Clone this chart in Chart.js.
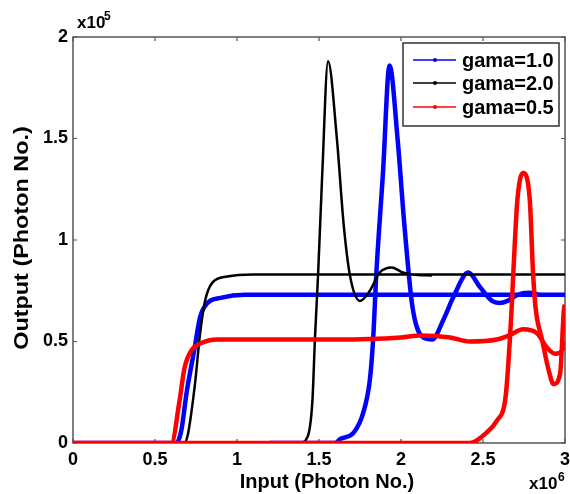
<!DOCTYPE html>
<html>
<head>
<meta charset="utf-8">
<script src="https://cdn.jsdelivr.net/npm/chart.js@4.4.1/dist/chart.umd.min.js"></script>
<style>
html,body{margin:0;padding:0;background:#fff;}
canvas{display:block;}
</style>
</head>
<body>
<canvas id="c" width="570" height="494"></canvas>
<script>
// ---- tick values / labels ----
const xTicks = [0, 0.5, 1, 1.5, 2, 2.5, 3];
const xTickLabels = ['0', '0.5', '1', '1.5', '2', '2.5', '3'];
const yTicks = [0, 0.5, 1, 1.5, 2];
const yTickLabels = ['0', '0.5', '1', '1.5', '2'];
const seriesLabels = ['gama=1.0', 'gama=2.0', 'gama=0.5'];
const xTitle = 'Input (Photon No.)';
const yTitle = 'Output (Photon No.)';

// ---- gama=1.0 (blue) ----
const g10LowX  = [0, 0.63, 0.66, 0.695, 0.74, 0.775, 0.82, 0.90, 1.05, 1.5, 2.0, 2.5, 3.0];
const g10LowY  = [0, 0, 0.06, 0.26, 0.46, 0.62, 0.69, 0.715, 0.73, 0.73, 0.73, 0.73, 0.73];
const g10HighX = [1.2, 1.60, 1.63, 1.71, 1.77, 1.81, 1.83, 1.85, 1.89, 1.93, 1.98, 2.02, 2.07, 2.135, 2.19, 2.26, 2.32, 2.41, 2.48, 2.555, 2.60, 2.65, 2.71, 2.78, 2.85, 3.0];
const g10HighY = [0, 0, 0.02, 0.05, 0.15, 0.31, 0.51, 0.84, 1.33, 1.86, 1.49, 1.08, 0.67, 0.52, 0.51, 0.61, 0.72, 0.84, 0.77, 0.70, 0.69, 0.70, 0.73, 0.74, 0.73, 0.73];

// ---- gama=2.0 (black) ----
const g20LowX  = [0, 0.68, 0.70, 0.72, 0.745, 0.775, 0.805, 0.85, 0.94, 1.1, 2.0, 3.0];
const g20LowY  = [0, 0, 0.04, 0.14, 0.30, 0.54, 0.70, 0.79, 0.82, 0.83, 0.83, 0.83];
const g20HighX = [1.2, 1.38, 1.43, 1.46, 1.475, 1.495, 1.52, 1.555, 1.61, 1.65, 1.69, 1.75, 1.81, 1.87, 1.945, 2.01, 2.07, 2.19];
const g20HighY = [0, 0, 0.03, 0.21, 0.51, 0.84, 1.33, 1.88, 1.49, 1.08, 0.82, 0.70, 0.75, 0.84, 0.865, 0.84, 0.83, 0.825];

// ---- gama=0.5 (red) ----
const g05LowX  = [0, 0.60, 0.65, 0.68, 0.725, 0.775, 0.88, 1.2, 1.6, 2.0, 2.12, 2.3, 2.42, 2.585, 2.66, 2.745, 2.83, 2.89, 2.94, 2.99, 3.0];
const g05LowY  = [0, 0, 0.21, 0.37, 0.46, 0.49, 0.51, 0.51, 0.51, 0.52, 0.53, 0.52, 0.50, 0.51, 0.53, 0.56, 0.54, 0.47, 0.44, 0.47, 0.50];
const g05HighX = [0, 2.42, 2.52, 2.585, 2.635, 2.65, 2.675, 2.685, 2.71, 2.745, 2.785, 2.805, 2.82, 2.86, 2.90, 2.93, 2.97, 2.995, 3.0];
const g05HighY = [0, 0, 0.05, 0.11, 0.21, 0.34, 0.67, 0.84, 1.20, 1.33, 1.20, 0.84, 0.67, 0.51, 0.36, 0.29, 0.34, 0.67, 0.68];

function branches(lx, ly, hx, hy) {
  const pts = lx.map((v, i) => ({ x: v, y: ly[i] }));
  pts.push({ x: lx[lx.length - 1], y: null });
  hx.forEach((v, i) => pts.push({ x: v, y: hy[i] }));
  return pts;
}

const colors = ['#0000ff', '#000000', '#ff0000'];

const frame = {
  id: 'frame',
  beforeDatasetsDraw(chart) {
    const { ctx, chartArea: a, scales: { x, y } } = chart;
    ctx.save();
    ctx.strokeStyle = '#555';
    ctx.lineWidth = 1.5;
    ctx.strokeRect(a.left, a.top, a.right - a.left, a.bottom - a.top);
    ctx.lineWidth = 1.2;
    ctx.beginPath();
    xTicks.forEach(v => {
      const p = x.getPixelForValue(v);
      ctx.moveTo(p, a.bottom); ctx.lineTo(p, a.bottom - 4);
      ctx.moveTo(p, a.top); ctx.lineTo(p, a.top + 4);
    });
    yTicks.forEach(v => {
      const p = y.getPixelForValue(v);
      ctx.moveTo(a.left, p); ctx.lineTo(a.left + 4, p);
      ctx.moveTo(a.right, p); ctx.lineTo(a.right - 4, p);
    });
    ctx.stroke();
    ctx.restore();
  },
  afterDatasetsDraw(chart) {
    const { ctx } = chart;
    ctx.save();
    // legend
    const bx = 403, by = 43, bw = 156, bh = 83;
    ctx.fillStyle = '#fff';
    ctx.fillRect(bx, by, bw, bh);
    ctx.strokeStyle = '#333';
    ctx.lineWidth = 1.5;
    ctx.strokeRect(bx, by, bw, bh);
    const rows = [60, 83, 107];
    ctx.font = 'bold 20px "Liberation Sans", Arial, sans-serif';
    ctx.textBaseline = 'middle';
    ctx.textAlign = 'left';
    seriesLabels.forEach((lab, i) => {
      ctx.strokeStyle = colors[i];
      ctx.lineWidth = 1.5;
      ctx.beginPath();
      ctx.moveTo(413, rows[i]); ctx.lineTo(456, rows[i]);
      ctx.stroke();
      ctx.fillStyle = colors[i];
      ctx.beginPath(); ctx.arc(435, rows[i], 2, 0, Math.PI * 2); ctx.fill();
      ctx.fillStyle = '#000';
      ctx.fillText(lab, 462, rows[i] + 1);
    });
    // exponents
    ctx.fillStyle = '#000';
    ctx.textBaseline = 'alphabetic';
    ctx.font = 'bold 17px "Liberation Sans", Arial, sans-serif';
    ctx.fillText('x10', 77, 28);
    ctx.fillText('x10', 529, 489);
    ctx.font = 'bold 12px "Liberation Sans", Arial, sans-serif';
    ctx.fillText('5', 104, 20);
    ctx.fillText('6', 558, 481);
    // axis titles
    ctx.font = 'bold 20px "Liberation Sans", Arial, sans-serif';
    ctx.textAlign = 'center';
    ctx.fillText(xTitle, 327, 488);
    ctx.save();
    ctx.translate(28, 238);
    ctx.rotate(-Math.PI / 2);
    ctx.scale(1.17, 1);
    ctx.fillText(yTitle, 0, 0);
    ctx.restore();
    ctx.restore();
  }
};

new Chart(document.getElementById('c'), {
  type: 'line',
  data: {
    datasets: [
      { label: seriesLabels[0], data: branches(g10LowX, g10LowY, g10HighX, g10HighY), borderColor: colors[0], backgroundColor: colors[0], borderWidth: 4.5, pointRadius: 0, order: 2 },
      { label: seriesLabels[1], data: branches(g20LowX, g20LowY, g20HighX, g20HighY), borderColor: colors[1], backgroundColor: colors[1], borderWidth: 2.5, pointRadius: 0, order: 1 },
      { label: seriesLabels[2], data: branches(g05LowX, g05LowY, g05HighX, g05HighY), borderColor: colors[2], backgroundColor: colors[2], borderWidth: 4.5, pointRadius: 0, order: 0 }
    ]
  },
  options: {
    responsive: false,
    animation: false,
    devicePixelRatio: 1,
    spanGaps: false,
    elements: { line: { cubicInterpolationMode: 'monotone' } },
    layout: { padding: { top: 37, right: 5, left: 0, bottom: 0 } },
    plugins: { legend: { display: false }, tooltip: { enabled: false } },
    scales: {
      x: {
        type: 'linear', min: 0, max: 3,
        afterFit(s) { s.height = 51; },
        afterBuildTicks(s) { s.ticks = xTicks.map(v => ({ value: v })); },
        grid: { display: false },
        border: { display: false },
        ticks: {
          padding: -2, color: '#000', maxRotation: 0, autoSkip: false,
          font: { family: '"Liberation Sans", Arial, sans-serif', size: 18, weight: 'bold' },
          callback: (v) => xTickLabels[xTicks.indexOf(v)]
        }
      },
      y: {
        type: 'linear', min: 0, max: 2,
        afterFit(s) { s.width = 73; },
        afterBuildTicks(s) { s.ticks = yTicks.map(v => ({ value: v })); },
        grid: { display: false },
        border: { display: false },
        ticks: {
          padding: -3, color: '#000', autoSkip: false,
          font: { family: '"Liberation Sans", Arial, sans-serif', size: 18, weight: 'bold' },
          callback: (v) => yTickLabels[yTicks.indexOf(v)]
        }
      }
    }
  },
  plugins: [frame]
});
</script>
</body>
</html>
